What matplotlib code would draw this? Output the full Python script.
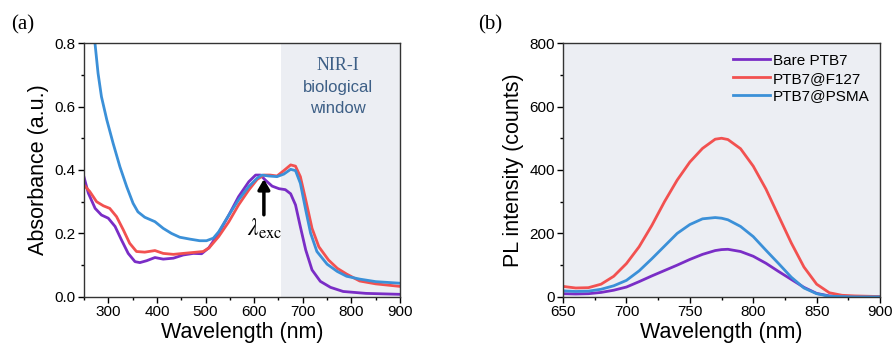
import numpy as np
import matplotlib
matplotlib.use("Agg")
from matplotlib import pyplot as plt
from matplotlib.ticker import MultipleLocator, FormatStrFormatter

# ---- panel (a): absorbance spectra ----
abs_bare_wl = [249, 259, 273, 286, 300, 314, 327, 341, 355, 365, 379, 396, 413, 434, 454,
               475, 492, 507, 527, 548, 568, 589, 603, 613, 623, 637, 651, 664, 675, 685,
               695, 706, 719, 736, 757, 783, 830, 900]
abs_bare = [0.384, 0.327, 0.279, 0.258, 0.248, 0.222, 0.180, 0.137, 0.111, 0.108, 0.114,
            0.124, 0.119, 0.122, 0.132, 0.137, 0.136, 0.155, 0.201, 0.258, 0.316, 0.363,
            0.384, 0.384, 0.368, 0.349, 0.341, 0.338, 0.325, 0.290, 0.221, 0.148, 0.085,
            0.049, 0.030, 0.017, 0.011, 0.008]

abs_f127_wl = [250, 262, 276, 290, 303, 317, 331, 344, 358, 375, 396, 413, 434, 454, 475,
               495, 507, 527, 548, 568, 589, 606, 620, 633, 647, 661, 675, 685, 695, 706,
               719, 733, 753, 771, 790, 817, 850, 900]
abs_f127 = [0.353, 0.332, 0.300, 0.287, 0.279, 0.253, 0.211, 0.169, 0.143, 0.141, 0.146,
            0.137, 0.134, 0.137, 0.140, 0.143, 0.154, 0.190, 0.237, 0.290, 0.337, 0.370,
            0.384, 0.384, 0.381, 0.398, 0.416, 0.412, 0.379, 0.306, 0.216, 0.158, 0.116,
            0.090, 0.072, 0.050, 0.041, 0.033]

abs_psma_wl = [268, 272, 279, 286, 297, 310, 324, 338, 351, 361, 375, 396, 413, 430, 447,
               468, 488, 502, 516, 527, 548, 568, 589, 606, 616, 630, 647, 661, 675, 685,
               695, 706, 716, 729, 750, 771, 790, 817, 850, 900]
abs_psma = [0.85, 0.81, 0.705, 0.631, 0.558, 0.484, 0.410, 0.347, 0.295, 0.268, 0.251,
            0.237, 0.216, 0.200, 0.188, 0.182, 0.177, 0.177, 0.185, 0.205, 0.258, 0.306,
            0.348, 0.374, 0.384, 0.381, 0.379, 0.387, 0.402, 0.398, 0.358, 0.274, 0.201,
            0.143, 0.103, 0.080, 0.065, 0.056, 0.048, 0.043]

# ---- panel (b): PL spectra ----
pl_wl = [650, 660, 670, 680, 690, 700, 710, 720, 730, 740, 750, 760, 770, 775, 780, 790,
         800, 810, 820, 830, 840, 850, 860, 870, 880, 890, 900]
pl_bare = [10, 9, 10, 14, 21, 31, 48, 66, 83, 100, 118, 134, 146, 149, 150, 143, 128,
           106, 80, 55, 30, 11, 3, 1, 0, 0, 0]
pl_f127 = [33, 28, 29, 40, 65, 105, 158, 225, 300, 368, 425, 468, 497, 500, 496, 467,
           412, 340, 255, 170, 94, 40, 13, 5, 3, 2, 1]
pl_psma = [19, 17, 18, 24, 35, 52, 82, 120, 160, 200, 228, 246, 250, 248, 243, 222,
           190, 147, 105, 62, 28, 10, 2, 1, 0, 0, 0]

labels = ["Bare PTB7", "PTB7@F127", "PTB7@PSMA"]
colors = ["#7a2dc6", "#f25150", "#3b90d8"]
shade = "#eceef3"
text_blue = "#3d5f86"

plt.rcParams["font.family"] = ["Liberation Sans", "DejaVu Sans"]
plt.rcParams["mathtext.fontset"] = "stix"

fig = plt.figure(figsize=(8.93, 3.53), dpi=100)
ax1 = fig.add_axes([0.094, 0.159, 0.354, 0.719])
ax2 = fig.add_axes([0.6305, 0.159, 0.355, 0.719])

# (a)
ax1.axvspan(655, 900, color=shade, lw=0, zorder=0)
for wl, y, c in zip([abs_bare_wl, abs_f127_wl, abs_psma_wl],
                    [abs_bare, abs_f127, abs_psma], colors):
    ax1.plot(wl, y, color=c, lw=2, solid_joinstyle="round")
ax1.set_xlim(250, 900)
ax1.set_ylim(0, 0.8)
ax1.set_xticks([300, 400, 500, 600, 700, 800, 900])
ax1.xaxis.set_minor_locator(MultipleLocator(50))
ax1.yaxis.set_major_locator(MultipleLocator(0.2))
ax1.yaxis.set_minor_locator(MultipleLocator(0.1))
ax1.yaxis.set_major_formatter(FormatStrFormatter("%.1f"))
ax1.set_xlabel("Wavelength (nm)", fontsize=15.5, labelpad=2)
ax1.set_ylabel("Absorbance (a.u.)", fontsize=15.5, labelpad=4)
ax1.text(773, 0.73, "NIR-I", family="Liberation Serif", fontsize=13,
         color=text_blue, ha="center", va="center")
ax1.text(773, 0.66, "biological", fontsize=12, color=text_blue, ha="center", va="center")
ax1.text(773, 0.595, "window", fontsize=12, color=text_blue, ha="center", va="center")
ax1.annotate("", xy=(620, 0.38), xytext=(620, 0.25),
             arrowprops=dict(arrowstyle="-|>,head_width=0.35,head_length=0.6",
                             color="black", lw=2.5))
ax1.text(622, 0.213, r"$\lambda_{\mathrm{exc}}$", fontsize=17, ha="center", va="center")
fig.text(0.013, 0.93, "(a)", family="Liberation Serif", fontsize=15, va="center")

# (b)
ax2.set_facecolor(shade)
for y, c, lab in zip([pl_bare, pl_f127, pl_psma], colors, labels):
    ax2.plot(pl_wl, y, color=c, lw=2, label=lab, solid_joinstyle="round")
ax2.set_xlim(650, 900)
ax2.set_ylim(0, 800)
ax2.xaxis.set_major_locator(MultipleLocator(50))
ax2.xaxis.set_minor_locator(MultipleLocator(25))
ax2.yaxis.set_major_locator(MultipleLocator(200))
ax2.yaxis.set_minor_locator(MultipleLocator(100))
ax2.set_xlabel("Wavelength (nm)", fontsize=15.5, labelpad=2)
ax2.set_ylabel("PL intensity (counts)", fontsize=15.5, labelpad=4)
ax2.legend(loc="upper right", frameon=False, fontsize=11, handlelength=2.4,
           handletextpad=0.2, labelspacing=0.25, borderaxespad=0.3)
fig.text(0.535, 0.93, "(b)", family="Liberation Serif", fontsize=15, va="center")

for ax in (ax1, ax2):
    ax.tick_params(which="major", direction="out", length=4, width=1, labelsize=11, pad=2)
    ax.tick_params(which="minor", direction="out", length=2.5, width=1)
    ax.tick_params(top=False, right=False)
    for s in ax.spines.values():
        s.set_linewidth(1)
        s.set_color("#333333")

fig.savefig("out.png", dpi=100)
